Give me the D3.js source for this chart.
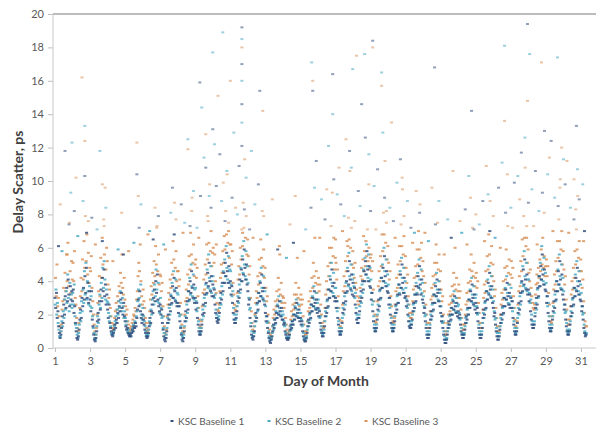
<!DOCTYPE html>
<html><head><meta charset="utf-8">
<script src="https://cdn.jsdelivr.net/npm/d3@7"></script>
<style>
html,body{margin:0;padding:0;background:#fff;}
svg{display:block;font-family:Lato,"Open Sans",sans-serif;}
</style></head>
<body><svg id="c" width="596" height="432"></svg>
<script>
// ---- data (hourly samples, starting day 1 00:00) ----
const seriesNames = ["KSC Baseline 1", "KSC Baseline 2", "KSC Baseline 3"];
const xTicks = [1,3,5,7,9,11,13,15,17,19,21,23,25,27,29,31];
const yTicks = [0,2,4,6,8,10,12,14,16,18,20];
const samplesPerDay = 24;

const baseline1 = [
3.0,2.4,3.3,1.8,2.2,1.3,0.9,0.6,0.8,1.2,1.9,1.5,2.6,2.0,3.1,2.4,3.6,2.8,4.1,3.2,2.5,3.7,2.9,3.4,
2.8,3.5,2.1,2.5,1.5,1.0,0.6,0.5,0.7,1.1,1.7,2.3,1.8,3.0,2.5,3.6,2.9,4.3,3.3,4.8,3.0,3.9,2.7,3.4,
2.9,2.2,3.4,1.7,1.3,0.8,0.5,0.4,0.6,1.0,1.6,2.1,1.7,2.8,2.3,3.5,2.8,4.2,3.4,4.7,3.1,3.8,2.6,3.2,
2.3,1.8,2.6,1.5,1.2,1.0,0.8,0.7,0.9,1.1,1.4,1.2,1.7,1.5,2.1,1.8,2.5,2.2,2.9,3.3,2.4,2.0,2.7,1.9,
1.6,1.3,1.1,1.2,0.9,0.8,0.7,0.8,0.7,0.9,1.1,1.0,1.3,1.2,1.5,1.3,1.8,2.3,2.9,2.5,3.4,2.2,1.8,1.5,
2.0,1.7,1.4,1.1,0.9,0.7,0.6,0.7,0.9,1.3,1.8,1.5,2.2,2.6,2.1,3.0,3.5,2.8,4.0,3.3,4.4,2.9,2.5,2.2,
2.6,2.0,2.3,1.5,1.1,0.7,0.5,0.4,0.6,1.0,1.5,2.0,1.7,2.6,2.2,3.1,2.7,3.7,3.0,4.2,3.4,2.8,3.6,2.5,
2.7,2.1,2.5,1.6,1.2,0.8,0.5,0.4,0.6,1.0,1.6,2.2,1.8,2.8,2.3,3.4,2.9,4.0,3.3,4.6,3.6,3.0,3.8,2.7,
3.0,2.3,2.7,1.8,1.4,1.0,0.8,0.8,1.0,1.4,2.0,2.6,2.1,3.2,2.7,3.9,3.3,4.5,3.7,5.1,4.0,3.4,4.3,3.1,
3.8,3.1,3.5,2.6,2.1,1.8,1.6,1.5,1.7,2.1,2.7,3.3,2.9,3.9,3.4,4.5,3.9,5.1,4.3,5.7,4.6,3.9,4.9,3.6,
4.0,3.2,3.7,2.7,2.1,1.7,1.5,1.5,1.8,2.2,2.8,3.4,3.0,4.1,3.5,4.7,4.0,5.3,4.4,5.9,4.8,4.1,5.0,3.8,
3.4,2.6,2.9,1.8,1.3,0.8,0.6,0.5,0.7,1.0,1.6,2.1,1.8,2.7,2.3,3.3,2.8,3.9,3.1,4.4,3.4,2.9,3.6,2.6,
2.1,1.6,1.9,1.2,0.9,0.6,0.4,0.3,0.5,0.7,1.0,1.4,1.2,1.7,1.5,2.1,1.8,2.5,2.0,2.8,2.2,1.9,2.4,1.7,
1.7,1.4,1.5,1.0,0.8,0.6,0.5,0.5,0.6,0.8,1.1,1.4,1.2,1.6,1.4,2.0,1.7,2.4,1.9,2.7,2.1,1.8,2.3,1.6,
1.8,1.4,1.6,1.0,0.7,0.5,0.4,0.4,0.6,0.9,1.3,1.7,1.5,2.1,1.8,2.6,2.2,3.0,2.5,3.4,2.7,2.3,2.9,2.1,
2.4,1.9,2.2,1.5,1.1,0.9,0.7,0.7,0.9,1.3,1.9,2.4,2.1,2.9,2.5,3.5,3.0,4.1,3.4,4.7,3.7,3.1,3.9,2.8,
3.0,2.4,2.8,1.8,1.4,1.0,0.8,0.8,1.0,1.5,2.1,2.7,2.3,3.3,2.8,4.0,3.4,4.6,3.8,5.2,4.1,3.5,4.4,3.2,
3.9,3.1,3.6,2.6,2.1,1.7,1.5,1.5,1.8,2.2,2.8,3.4,3.0,4.0,3.5,4.6,4.0,5.2,4.4,5.8,4.7,4.0,4.9,3.7,
3.6,2.9,3.3,2.2,1.6,1.2,1.0,1.0,1.2,1.7,2.3,2.9,2.5,3.5,3.0,4.2,3.6,4.8,4.0,5.5,4.3,3.7,4.6,3.4,
3.3,2.6,3.0,2.0,1.5,1.2,1.0,1.0,1.2,1.6,2.1,2.6,2.3,3.2,2.7,3.8,3.2,4.4,3.6,5.0,3.9,3.3,4.2,3.0,
3.1,2.5,2.8,2.0,1.6,1.3,1.2,1.2,1.4,1.7,2.2,2.7,2.4,3.2,2.8,3.7,3.2,4.3,3.6,4.9,3.8,3.2,4.1,2.9,
2.7,2.1,2.4,1.6,1.2,0.8,0.6,0.6,0.8,1.2,1.7,2.2,1.9,2.7,2.3,3.2,2.7,3.7,3.1,4.1,3.3,2.8,3.5,2.5,
2.1,1.6,1.9,1.2,0.8,0.5,0.3,0.3,0.5,0.8,1.2,1.6,1.4,2.0,1.7,2.4,2.0,2.8,2.3,3.1,2.5,2.1,2.7,1.9,
2.2,1.8,2.0,1.4,1.0,0.8,0.6,0.6,0.8,1.1,1.5,1.9,1.7,2.4,2.0,2.9,2.4,3.4,2.8,3.8,3.0,2.6,3.2,2.3,
2.7,2.1,2.4,1.6,1.2,0.8,0.6,0.6,0.8,1.2,1.8,2.3,2.0,2.8,2.4,3.4,2.9,3.9,3.2,4.5,3.5,3.0,3.7,2.7,
2.4,1.9,2.1,1.4,1.0,0.7,0.5,0.5,0.7,1.1,1.5,2.0,1.7,2.5,2.1,3.0,2.5,3.5,2.9,3.9,3.1,2.6,3.3,2.4,
3.0,2.4,2.8,1.8,1.4,1.0,0.8,0.8,1.0,1.5,2.1,2.7,2.3,3.3,2.8,4.0,3.4,4.7,3.8,5.3,4.1,3.5,4.4,3.2,
3.5,2.8,3.2,2.2,1.7,1.4,1.2,1.2,1.4,1.9,2.4,3.0,2.6,3.6,3.1,4.3,3.7,4.9,4.1,5.6,4.4,3.8,4.7,3.5,
3.4,2.7,3.1,2.1,1.6,1.2,1.0,1.0,1.2,1.7,2.2,2.8,2.4,3.4,2.9,4.0,3.4,4.6,3.8,5.2,4.1,3.5,4.4,3.2,
2.9,2.3,2.6,1.7,1.3,1.0,0.8,0.8,1.0,1.4,1.9,2.5,2.1,3.0,2.6,3.6,3.1,4.2,3.4,4.8,3.7,3.2,4.0,2.9,
2.8,2.2,2.5,1.7,1.2,0.9,0.7,0.8];

const baseline2 = [
2.6,3.5,2.0,2.7,1.5,1.1,0.7,0.7,1.0,1.6,1.3,2.2,1.8,2.9,2.3,3.4,2.7,4.4,3.0,2.2,3.9,2.6,3.2,2.4,
3.3,2.6,3.8,1.9,1.4,1.2,0.8,0.6,0.9,1.4,2.1,1.6,2.8,2.2,3.5,2.7,4.6,3.2,5.1,2.9,4.0,3.4,2.6,3.7,
2.5,3.1,2.4,1.9,1.2,0.9,0.6,0.5,0.8,1.3,1.9,1.5,2.6,3.2,2.4,3.9,3.0,4.8,3.6,5.2,4.1,2.9,3.5,2.8,
2.7,2.1,1.6,1.9,1.3,0.9,0.8,0.8,1.0,1.3,1.6,1.9,1.5,2.3,2.0,2.8,2.4,3.4,2.7,2.2,3.0,2.5,1.8,2.2,
1.8,1.4,1.6,1.0,1.1,0.9,0.8,0.7,0.9,1.0,1.2,1.4,1.2,1.6,1.5,1.9,2.2,2.8,3.5,3.0,2.6,3.8,2.0,1.7,
2.4,1.9,1.6,1.3,1.0,0.8,0.7,0.8,1.1,1.6,1.4,2.3,2.0,2.9,3.4,2.6,3.8,3.1,4.7,3.5,2.8,3.9,2.7,2.1,
3.0,2.4,1.8,1.9,1.2,0.9,0.6,0.6,0.8,1.2,1.8,1.5,2.4,2.0,3.2,2.6,3.9,3.0,4.6,3.5,2.9,4.1,2.7,3.3,
3.2,2.5,1.9,2.0,1.3,0.9,0.7,0.6,0.8,1.3,1.9,1.6,2.6,2.1,3.4,2.8,4.2,3.2,5.0,3.7,3.1,4.4,2.9,3.5,
3.6,2.8,2.2,2.4,1.6,1.2,0.9,1.0,1.2,1.7,2.3,1.9,3.0,2.5,3.8,3.2,4.7,3.6,5.6,4.2,3.5,4.9,3.3,4.0,
4.3,3.6,3.0,3.2,2.3,2.0,1.8,1.7,1.9,2.4,3.0,2.6,3.7,3.2,4.6,3.9,5.3,4.3,6.1,4.8,4.1,5.5,3.9,4.7,
4.6,3.8,3.1,3.4,2.4,2.0,1.7,1.7,2.0,2.5,3.1,2.7,3.8,3.3,4.8,4.0,5.5,4.5,6.4,5.0,4.3,5.8,4.1,4.9,
3.9,3.0,2.3,2.4,1.5,1.0,0.7,0.7,0.9,1.3,1.9,1.6,2.6,2.2,3.3,2.8,4.0,3.1,4.8,3.6,3.0,4.3,2.8,3.4,
2.5,1.9,1.5,1.6,1.0,0.7,0.5,0.5,0.6,0.9,1.3,1.1,1.7,1.4,2.2,1.8,2.6,2.1,3.1,2.4,2.0,2.8,1.9,2.2,
2.0,1.6,1.3,1.4,0.9,0.7,0.6,0.6,0.7,1.0,1.3,1.1,1.6,1.4,2.0,1.7,2.5,2.0,2.9,2.3,1.9,2.6,1.8,2.1,
2.1,1.7,1.3,1.4,0.9,0.6,0.5,0.5,0.7,1.1,1.6,1.3,2.0,1.7,2.6,2.2,3.1,2.5,3.7,2.9,2.4,3.3,2.3,2.7,
2.9,2.3,1.8,1.9,1.3,1.0,0.8,0.9,1.1,1.6,2.2,1.9,2.8,2.4,3.5,3.0,4.3,3.4,5.1,3.9,3.3,4.5,3.1,3.6,
3.6,2.8,2.2,2.4,1.6,1.2,0.9,1.0,1.2,1.8,2.4,2.0,3.1,2.6,3.9,3.3,4.8,3.7,5.7,4.3,3.6,5.0,3.4,4.1,
4.4,3.7,3.0,3.3,2.4,2.0,1.8,1.8,2.0,2.5,3.1,2.7,3.8,3.3,4.7,4.0,5.4,4.4,6.2,4.9,4.2,5.6,4.0,4.8,
4.1,3.3,2.6,2.8,1.9,1.4,1.1,1.2,1.4,2.0,2.6,2.2,3.4,2.9,4.2,3.6,5.0,4.0,6.0,4.6,3.9,5.3,3.7,4.4,
3.8,3.0,2.4,2.6,1.8,1.4,1.1,1.2,1.4,1.9,2.5,2.1,3.1,2.7,3.8,3.3,4.6,3.6,5.4,4.2,3.5,4.8,3.3,4.0,
3.6,2.9,2.4,2.6,1.9,1.6,1.4,1.4,1.6,2.0,2.6,2.2,3.2,2.7,3.9,3.3,4.5,3.7,5.3,4.1,3.5,4.7,3.3,3.9,
3.1,2.5,1.9,2.0,1.4,1.0,0.8,0.8,1.0,1.4,2.0,1.7,2.6,2.2,3.2,2.7,3.9,3.1,4.5,3.5,2.9,4.0,2.8,3.3,
2.5,1.9,1.5,1.6,1.0,0.7,0.5,0.5,0.6,1.0,1.4,1.2,1.9,1.6,2.4,2.0,2.9,2.3,3.4,2.7,2.2,3.0,2.1,2.5,
2.6,2.1,1.7,1.8,1.2,0.9,0.8,0.8,0.9,1.3,1.8,1.5,2.3,2.0,2.9,2.4,3.5,2.8,4.2,3.2,2.7,3.7,2.5,3.0,
3.2,2.5,2.0,2.1,1.4,1.0,0.8,0.8,1.0,1.5,2.1,1.8,2.7,2.3,3.4,2.9,4.1,3.3,4.9,3.7,3.1,4.3,3.0,3.5,
2.8,2.2,1.7,1.8,1.2,0.9,0.7,0.7,0.9,1.3,1.8,1.5,2.4,2.0,3.0,2.5,3.6,2.9,4.3,3.3,2.7,3.8,2.6,3.1,
3.6,2.8,2.2,2.4,1.6,1.2,0.9,1.0,1.2,1.8,2.4,2.0,3.1,2.6,3.9,3.3,4.9,3.7,5.8,4.3,3.6,5.1,3.4,4.1,
4.1,3.3,2.7,2.9,2.0,1.6,1.4,1.4,1.6,2.1,2.7,2.3,3.5,3.0,4.3,3.7,5.1,4.1,6.1,4.7,4.0,5.4,3.8,4.5,
3.9,3.1,2.5,2.7,1.9,1.4,1.1,1.2,1.4,1.9,2.5,2.1,3.2,2.8,4.0,3.4,4.7,3.8,5.6,4.3,3.6,5.0,3.5,4.2,
3.4,2.6,2.1,2.2,1.5,1.1,0.9,1.0,1.1,1.6,2.2,1.9,2.9,2.5,3.6,3.1,4.4,3.5,5.2,4.0,3.4,4.6,3.2,3.8,
3.3,2.5,2.0,2.1,1.4,1.0,0.8,0.9];

const baseline3 = [
4.2,3.1,5.0,2.5,3.0,1.9,1.3,1.0,1.4,2.3,2.8,3.6,2.9,4.5,3.4,5.6,4.0,6.3,3.7,7.5,4.6,3.3,5.2,4.1,
5.1,4.0,5.8,3.0,2.6,1.8,1.2,1.0,1.5,2.4,3.1,4.2,3.4,5.3,4.1,6.4,4.8,7.9,5.2,6.8,4.4,5.7,3.9,4.8,
4.6,5.5,3.6,2.8,2.0,1.4,1.0,0.8,1.2,2.0,2.7,3.4,4.3,3.1,5.4,4.2,6.6,5.0,7.7,5.6,9.6,4.7,6.0,5.2,
3.8,3.0,3.5,2.4,1.9,1.5,1.2,1.1,1.4,1.8,2.2,2.7,2.3,3.1,2.8,3.7,3.3,4.5,3.9,5.6,3.6,3.2,4.2,2.9,
2.5,2.0,2.3,1.6,1.4,1.2,1.0,1.1,1.3,1.5,1.7,2.0,1.9,2.4,2.2,2.9,3.4,4.3,5.1,4.6,6.2,4.0,3.1,2.6,
3.5,2.8,2.4,1.8,1.5,1.2,1.0,1.1,1.5,2.2,2.9,3.7,3.2,4.5,3.9,5.2,4.3,6.1,5.0,7.3,4.6,5.6,3.8,4.4,
4.3,3.4,3.9,2.5,1.9,1.3,0.9,0.8,1.1,1.9,2.6,3.3,2.9,4.1,3.6,5.1,4.4,6.4,5.3,8.7,4.8,5.8,4.0,4.6,
4.6,3.7,4.1,2.7,2.0,1.4,1.0,0.9,1.2,2.0,2.8,3.5,3.0,4.4,3.8,5.5,4.7,6.9,5.6,9.0,5.1,6.2,4.3,5.0,
5.3,4.2,4.8,3.1,2.4,1.7,1.3,1.2,1.6,2.5,3.3,4.1,3.5,5.0,4.4,6.2,5.3,7.6,6.3,9.8,5.8,7.0,4.9,5.7,
6.0,5.1,5.6,4.0,3.3,2.7,2.3,2.2,2.6,3.4,4.2,5.0,4.5,5.8,5.1,6.7,5.9,8.2,6.8,10.4,6.3,7.5,5.4,6.2,
6.2,5.0,5.8,3.9,3.2,2.6,2.3,2.2,2.5,3.3,4.1,4.9,4.4,6.0,5.3,7.1,6.1,8.7,7.2,11.3,6.6,7.9,5.6,6.5,
5.5,4.4,4.9,3.0,2.2,1.5,1.1,1.0,1.3,2.0,2.7,3.4,3.0,4.3,3.8,5.3,4.5,6.5,5.4,8.2,4.9,5.9,4.2,4.8,
3.6,2.8,3.1,2.0,1.5,1.1,0.8,0.7,0.9,1.3,1.8,2.3,2.0,2.8,2.5,3.4,2.9,4.2,3.5,5.6,3.2,3.9,2.7,3.1,
3.0,2.4,2.7,1.8,1.4,1.1,0.9,0.8,1.0,1.3,1.7,2.2,1.9,2.6,2.3,3.2,2.7,3.9,3.2,5.4,3.0,3.6,2.5,2.9,
3.2,2.6,2.9,1.9,1.4,1.0,0.8,0.8,1.0,1.6,2.2,2.8,2.4,3.4,3.0,4.2,3.6,5.1,4.3,6.6,3.9,4.6,3.3,3.8,
4.2,3.4,3.8,2.6,2.0,1.5,1.3,1.2,1.6,2.4,3.2,4.0,3.5,4.9,4.3,6.0,5.1,7.3,6.0,9.3,5.5,6.6,4.7,5.4,
5.1,4.1,4.7,3.1,2.4,1.7,1.3,1.2,1.6,2.6,3.4,4.3,3.7,5.2,4.6,6.4,5.5,7.8,6.5,10.6,6.0,7.2,5.0,5.8,
4.8,4.2,5.1,3.9,3.5,3.1,2.8,2.6,3.0,3.6,4.3,4.8,4.1,5.3,4.6,5.8,4.9,6.4,5.5,7.1,5.2,6.0,4.7,5.4,
5.6,4.6,5.2,3.5,2.8,2.0,1.6,1.5,1.9,2.8,3.7,4.6,4.0,5.5,4.9,6.8,5.8,8.1,6.8,11.2,6.3,7.5,5.3,6.1,
5.1,4.1,4.6,3.1,2.5,1.9,1.6,1.5,1.8,2.6,3.4,4.2,3.6,5.0,4.4,6.1,5.2,7.4,6.1,9.5,5.6,6.7,4.8,5.5,
4.8,3.9,4.4,3.1,2.6,2.1,1.8,1.8,2.1,2.8,3.5,4.2,3.7,4.9,4.3,5.9,5.0,7.0,5.9,8.6,5.4,6.3,4.6,5.2,
4.3,3.4,3.9,2.6,2.0,1.5,1.2,1.2,1.5,2.2,2.9,3.6,3.1,4.3,3.8,5.1,4.4,6.2,5.1,7.5,4.7,5.6,4.0,4.6,
3.5,2.8,3.1,2.0,1.5,1.0,0.8,0.8,1.0,1.5,2.0,2.6,2.2,3.1,2.7,3.7,3.2,4.5,3.8,6.0,3.5,4.2,3.0,3.4,
3.8,3.0,3.4,2.3,1.8,1.4,1.1,1.1,1.4,2.0,2.6,3.3,2.8,3.9,3.4,4.7,4.0,5.6,4.6,7.2,4.3,5.1,3.7,4.2,
4.5,3.6,4.0,2.7,2.1,1.5,1.2,1.2,1.5,2.3,3.0,3.8,3.3,4.6,4.0,5.5,4.7,6.8,5.6,8.8,5.1,6.1,4.3,5.0,
4.0,3.1,3.5,2.4,1.8,1.3,1.0,1.0,1.3,2.0,2.6,3.3,2.9,4.0,3.5,4.8,4.1,5.9,4.9,7.3,4.5,5.3,3.8,4.4,
5.2,4.2,4.8,3.1,2.4,1.7,1.3,1.2,1.6,2.6,3.4,4.3,3.7,5.2,4.6,6.5,5.5,7.9,6.6,10.8,6.1,7.3,5.1,5.9,
4.5,4.0,4.7,3.6,3.1,2.7,2.4,2.3,2.6,3.2,3.8,4.4,3.9,4.8,4.2,5.3,4.6,5.9,5.0,6.6,4.8,5.5,4.3,4.9,
5.3,4.3,4.9,3.3,2.6,1.9,1.6,1.5,1.9,2.7,3.5,4.4,3.8,5.2,4.6,6.4,5.4,7.7,6.4,10.1,5.9,7.0,5.0,5.8,
4.7,3.8,4.3,2.9,2.3,1.7,1.4,1.4,1.7,2.5,3.2,4.0,3.5,4.8,4.2,5.8,5.0,7.1,5.9,9.1,5.4,6.4,4.6,5.3,
4.6,3.6,4.1,2.8,2.1,1.6,1.3,1.3];

// isolated readings off the daily pattern: [day, delay scatter ps]
const scatter1 = [[1.57,11.8],[2.7,10.3],[5.67,10.4],[7.7,9.6],[9.26,15.9],[10.0,13.1],[11.66,19.2],[11.66,17.0],[11.66,14.6],[11.66,12.1],[12.68,15.4],[15.7,15.4],[16.84,16.4],[18.49,14.6],[19.12,18.4],[22.65,16.8],[24.76,14.2],[27.95,19.4],[28.92,13.0],[30.74,13.3],
[1.2,6.1],[1.8,7.4],[2.1,8.2],[2.8,6.9],[3.1,7.8],[3.7,6.4],[4.9,5.6],[5.8,7.2],[6.6,6.5],[6.9,7.9],[7.8,6.8],[8.2,8.6],[8.7,7.3],[9.3,9.1],[9.6,10.8],[9.9,8.4],[10.2,9.7],[10.4,11.6],[10.7,7.6],[11.1,9.0],[11.5,10.9],[11.8,8.3],[12.1,7.1],[12.6,9.8],[13.7,5.9],[14.6,6.3],[15.6,8.4],[15.9,11.2],[16.4,7.7],[16.9,10.1],[17.3,8.6],[17.8,11.8],[18.3,9.4],[18.7,12.6],[19.0,8.2],[19.4,10.7],[19.8,9.0],[20.3,7.6],[20.7,11.3],[21.3,7.2],[21.8,8.1],[22.7,7.4],[23.6,6.6],[24.4,8.3],[24.9,7.1],[25.4,8.8],[25.8,7.0],[26.3,9.6],[26.7,8.1],[27.2,9.9],[27.6,11.7],[28.0,8.7],[28.4,10.6],[28.8,9.3],[29.3,12.4],[29.7,8.5],[30.1,9.8],[30.6,7.7],[30.9,8.9],[31.2,7.0]];
const scatter2 = [[1.97,12.3],[2.7,13.3],[3.56,11.8],[8.58,12.5],[9.37,14.4],[10.0,17.7],[10.57,18.9],[11.66,18.5],[11.66,16.0],[11.66,13.5],[12.2,11.8],[15.64,17.1],[16.84,14.0],[17.98,16.7],[18.66,17.6],[19.63,16.5],[26.64,18.1],[28.07,17.6],[29.66,17.4],[31.1,9.8],
[1.4,5.8],[1.9,9.3],[2.3,6.7],[2.6,8.8],[3.4,7.1],[3.9,8.4],[4.6,5.9],[5.5,6.3],[5.9,8.6],[6.4,7.0],[7.2,6.2],[7.6,8.1],[8.4,7.5],[8.9,9.4],[9.1,7.2],[9.5,11.4],[9.8,9.1],[10.1,12.2],[10.5,8.8],[10.8,10.6],[11.2,12.9],[11.4,8.0],[11.9,10.2],[12.4,8.6],[13.1,6.8],[14.2,5.4],[15.3,7.1],[15.8,9.6],[16.2,8.9],[16.6,12.1],[17.1,9.2],[17.5,7.9],[17.9,10.8],[18.4,8.5],[18.9,11.6],[19.2,9.7],[19.7,12.9],[20.1,8.4],[20.5,9.9],[21.1,8.8],[21.5,6.9],[22.3,6.4],[22.9,8.8],[23.4,7.7],[24.2,6.9],[24.6,10.3],[25.2,7.4],[25.7,9.2],[26.1,6.6],[26.5,11.1],[27.0,8.4],[27.4,10.3],[27.8,12.6],[28.2,9.5],[28.6,8.2],[29.1,10.4],[29.5,9.0],[30.0,11.3],[30.4,8.4],[30.8,10.7]];
const scatter3 = [[2.54,16.2],[2.7,12.4],[3.7,9.8],[4.8,8.1],[5.67,12.3],[6.7,8.4],[8.58,11.9],[9.6,12.8],[10.3,15.1],[11.0,16.0],[11.66,18.0],[12.85,14.2],[13.4,8.9],[14.7,9.1],[15.7,16.0],[17.2,10.8],[17.6,12.5],[18.2,17.5],[19.12,18.0],[19.63,15.7],[20.2,13.5],[20.8,10.2],[21.6,9.4],[23.7,10.6],[24.7,9.0],[25.6,10.9],[26.64,13.6],[26.8,10.4],[27.95,14.8],[28.75,17.1],[29.2,11.4],[29.9,12.0],[30.2,11.2],[30.6,10.1],
[1.3,8.6],[1.7,5.6],[2.2,10.2],[2.9,7.6],[3.3,6.2],[3.8,7.3],[4.3,5.2],[5.2,5.8],[5.75,9.1],[6.3,6.8],[6.8,7.2],[7.3,5.9],[7.9,7.7],[8.3,6.9],[8.8,8.2],[9.2,6.6],[9.7,7.9],[10.2,6.2],[10.6,9.9],[10.9,7.0],[11.3,8.4],[11.7,6.9],[12.3,6.6],[12.9,7.9],[13.8,6.1],[14.4,7.4],[15.2,5.8],[16.1,6.6],[16.5,9.5],[17.0,6.5],[17.4,7.0],[17.7,6.1],[18.1,7.6],[18.6,6.7],[18.9,9.8],[19.3,7.1],[19.9,8.2],[20.4,6.6],[20.9,7.9],[21.4,6.3],[22.1,6.9],[22.5,9.6],[23.2,5.6],[24.1,7.6],[24.5,6.2],[25.0,8.0],[25.5,6.4],[26.0,7.9],[26.4,6.0],[27.1,7.2],[27.5,8.9],[27.9,6.6],[28.3,7.3],[28.5,6.2],[28.9,8.1],[29.4,7.0],[29.8,9.6],[30.3,6.9],[30.7,8.3],[31.15,6.4]];

const colors = ["#34507f", "#4aaac4", "#d8935c"];

// ---- drawing ----
const svg = d3.select("#c");
const x = d3.scaleLinear().domain([1, 32]).range([55, 598.5]);
const y = d3.scaleLinear().domain([0, 20]).range([348, 14]);

function toPoints(vals, extra, k) {
  const pts = vals.map((v, i) => ({t: 1 + i / samplesPerDay + k / (3 * samplesPerDay), v}));
  extra.forEach(d => pts.push({t: d[0], v: d[1]}));
  return pts;
}
const series = [
  toPoints(baseline1, scatter1, 0),
  toPoints(baseline2, scatter2, 1),
  toPoints(baseline3, scatter3, 2)
];

// top border at 20
svg.append("line").attr("x1", 53).attr("x2", 596).attr("y1", y(20)).attr("y2", y(20))
  .attr("stroke", "#a6a6a6").attr("stroke-width", 1.5);

// axes
const xAxis = d3.axisBottom(x).tickValues(xTicks).tickSize(4).tickSizeOuter(0).tickPadding(5);
const gx = svg.append("g").attr("transform", `translate(0,${y(0)})`).call(xAxis);
gx.select(".domain").remove();
gx.selectAll(".tick line").attr("stroke", "#bfbfbf");
gx.selectAll(".tick text").attr("fill", "#595959").style("font-size", "11px").style("font-family", "Lato");
svg.append("line").attr("x1", 53).attr("x2", 596).attr("y1", y(0)).attr("y2", y(0)).attr("stroke", "#c8c8c8");

const yAxis = d3.axisLeft(y).tickValues(yTicks).tickSize(5).tickSizeOuter(0).tickPadding(4);
const gy = svg.append("g").attr("transform", "translate(53,0)").call(yAxis);
gy.select(".domain").remove();
gy.selectAll(".tick line").attr("stroke", "#bfbfbf");
gy.selectAll(".tick text").attr("fill", "#595959").style("font-size", "11px").style("font-family", "Lato");
svg.append("line").attr("x1", 53).attr("x2", 53).attr("y1", y(20)).attr("y2", y(0)).attr("stroke", "#c8c8c8");

// points: series 3 underneath, baseline 1 on top, as the darker blue dominates the reference
[2, 1, 0].forEach(k => {
  svg.append("g").selectAll("rect").data(series[k]).join("rect")
    .attr("x", d => x(d.t) - 1.5).attr("y", d => y(d.v) - 1)
    .attr("width", 3).attr("height", 2)
    .attr("fill", colors[k]).attr("opacity", d => d.v > 7 ? 0.55 : 0.85);
});

// axis titles
svg.append("text").attr("x", 326).attr("y", 386).attr("text-anchor", "middle")
  .attr("fill", "#404040").style("font-size", "14px").style("font-weight", "bold").text("Day of Month");
svg.append("text").attr("transform", "translate(23,182) rotate(-90)").attr("text-anchor", "middle")
  .attr("fill", "#404040").style("font-size", "14px").style("font-weight", "bold").text("Delay Scatter, ps");

// legend
const legX = [172, 269, 366];
seriesNames.forEach((n, k) => {
  const g = svg.append("g").attr("transform", `translate(${legX[k]},421)`);
  g.append("rect").attr("x", -1.5).attr("y", -1).attr("width", 3).attr("height", 2).attr("fill", colors[k]);
  g.append("text").attr("x", 6).attr("y", 3.5).attr("fill", "#595959").style("font-size", "10px").text(n);
});
</script></body></html>
